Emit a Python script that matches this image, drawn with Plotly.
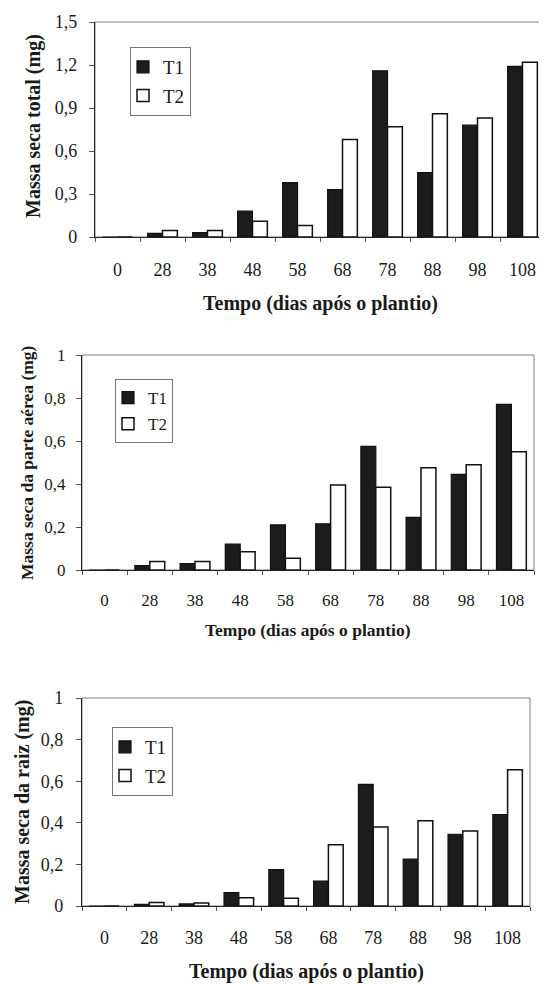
import plotly.graph_objects as go

# ---------------- data ----------------
dias = ["0", "28", "38", "48", "58", "68", "78", "88", "98", "108"]

total_t1 = [0, 0.025, 0.03, 0.18, 0.38, 0.33, 1.16, 0.45, 0.78, 1.19]
total_t2 = [0, 0.045, 0.045, 0.11, 0.08, 0.68, 0.77, 0.86, 0.83, 1.22]

aerea_t1 = [0, 0.02, 0.03, 0.12, 0.21, 0.215, 0.575, 0.245, 0.445, 0.77]
aerea_t2 = [0, 0.04, 0.04, 0.085, 0.055, 0.395, 0.385, 0.475, 0.49, 0.55]

raiz_t1 = [0, 0.008, 0.01, 0.065, 0.175, 0.12, 0.585, 0.225, 0.345, 0.44]
raiz_t2 = [0, 0.017, 0.015, 0.04, 0.037, 0.295, 0.38, 0.41, 0.36, 0.655]

ticks_total = [0, 0.3, 0.6, 0.9, 1.2, 1.5]
ticktext_total = ["0", "0,3", "0,6", "0,9", "1,2", "1,5"]
ticks_01 = [0, 0.2, 0.4, 0.6, 0.8, 1.0]
ticktext_01 = ["0", "0,2", "0,4", "0,6", "0,8", "1"]

ytitles = ["Massa seca total (mg)", "Massa seca da parte aérea (mg)", "Massa seca da raiz (mg)"]
xtitle = "Tempo (dias após o plantio)"

# ---------------- layout geometry (page pixels) ----------------
# the page body has an 8px margin, so the figure starts at (8, 8)
OFF = 8
W, H = 547 - OFF, 984 - OFF
FONT = "Liberation Serif, Times New Roman, Times, serif"
INK = "#1a1a1a"

def px_x(v):
    return (v - OFF) / W

def px_y(v):
    return 1 - (v - OFF) / H

panels = [
    dict(x0=95, x1=545, yt=22, yb=237, rng=[0, 1.5], tv=ticks_total, tt=ticktext_total,
         tf=18, xtf=18, t1=total_t1, t2=total_t2, xstand=16, ystand=8,
         leg=(130, 47), legfont=19, ytx=33, yty=126, ytfs=20, xtx=320, xty=303, xtfs=20),
    dict(x0=82, x1=534, yt=355, yb=570, rng=[0, 1.0], tv=ticks_01, tt=ticktext_01,
         tf=17, xtf=17, t1=aerea_t1, t2=aerea_t2, xstand=14, ystand=7,
         leg=(115, 379), legfont=17, ytx=27, yty=463, ytfs=17.5, xtx=308, xty=630, xtfs=17.5),
    dict(x0=82, x1=530, yt=698, yb=906, rng=[0, 1.0], tv=ticks_01, tt=ticktext_01,
         tf=18, xtf=18, t1=raiz_t1, t2=raiz_t2, xstand=15, ystand=9,
         leg=(112, 727), legfont=19, ytx=22, yty=802, ytfs=20, xtx=306, xty=971, xtfs=20),
]

fig = go.Figure()
layout = dict(
    width=W, height=H,
    margin=dict(l=0, r=0, t=0, b=0, pad=0, autoexpand=False),
    paper_bgcolor="white", plot_bgcolor="white",
    barmode="group", bargap=0.34, bargroupgap=0.0,
    font=dict(family=FONT, color=INK),
    showlegend=True,
)
shapes = []
annotations = []

for i, p in enumerate(panels, start=1):
    xa = "x" if i == 1 else f"x{i}"
    ya = "y" if i == 1 else f"y{i}"
    lg = "legend" if i == 1 else f"legend{i}"

    fig.add_trace(go.Bar(
        x=dias, y=p["t1"], name="T1", xaxis=xa, yaxis=ya, legend=lg, legendgroup=f"a{i}",
        marker=dict(color="#1c1c1c", line=dict(color="#111111", width=1.2)),
    ))
    fig.add_trace(go.Bar(
        x=dias, y=p["t2"], name="T2", xaxis=xa, yaxis=ya, legend=lg, legendgroup=f"b{i}",
        marker=dict(color="white", line=dict(color="#111111", width=1.5)),
    ))

    xkey = "xaxis" if i == 1 else f"xaxis{i}"
    ykey = "yaxis" if i == 1 else f"yaxis{i}"
    layout[xkey] = dict(
        domain=[px_x(p["x0"]), min(1.0, px_x(p["x1"]))],
        anchor=ya, type="category", categoryorder="array", categoryarray=dias,
        showline=True, linecolor="#222222", linewidth=1.2,
        ticks="outside", tickson="boundaries", ticklen=4, tickcolor="#555555",
        tickfont=dict(size=p["xtf"], family=FONT, color=INK),
        ticklabelstandoff=p["xstand"], automargin=False,
        showgrid=False, zeroline=False, fixedrange=True,
    )
    layout[ykey] = dict(
        domain=[px_y(p["yb"]), px_y(p["yt"])],
        anchor=xa, range=p["rng"],
        tickmode="array", tickvals=p["tv"], ticktext=p["tt"],
        showline=True, linecolor="#222222", linewidth=1.2,
        ticks="outside", ticklen=5, tickcolor="#555555",
        tickfont=dict(size=p["tf"], family=FONT, color=INK),
        ticklabelstandoff=p["ystand"], automargin=False,
        showgrid=False, zeroline=False, fixedrange=True,
    )
    layout[lg] = dict(
        x=px_x(p["leg"][0]), y=px_y(p["leg"][1]), xanchor="left", yanchor="top",
        bgcolor="white", bordercolor="#777777", borderwidth=1,
        font=dict(size=p["legfont"], family=FONT, color=INK),
        tracegroupgap=1, indentation=-8, itemclick=False, itemdoubleclick=False,
    )
    shapes.append(dict(type="rect", xref=f"{xa} domain", yref=f"{ya} domain",
                       x0=0, x1=1, y0=0, y1=1, line=dict(color="#808080", width=1),
                       layer="below"))
    annotations.append(dict(
        text=f"<b>{ytitles[i-1]}</b>", textangle=-90, showarrow=False,
        xref="paper", yref="paper", x=px_x(p["ytx"]), y=px_y(p["yty"]),
        xanchor="center", yanchor="middle",
        font=dict(size=p["ytfs"], family=FONT, color=INK),
    ))
    annotations.append(dict(
        text=f"<b>{xtitle}</b>", showarrow=False,
        xref="paper", yref="paper", x=px_x(p["xtx"]), y=px_y(p["xty"]),
        xanchor="center", yanchor="middle",
        font=dict(size=p["xtfs"], family=FONT, color=INK),
    ))

layout["shapes"] = shapes
layout["annotations"] = annotations
fig.update_layout(**layout)

fig.write_html("out.html")
